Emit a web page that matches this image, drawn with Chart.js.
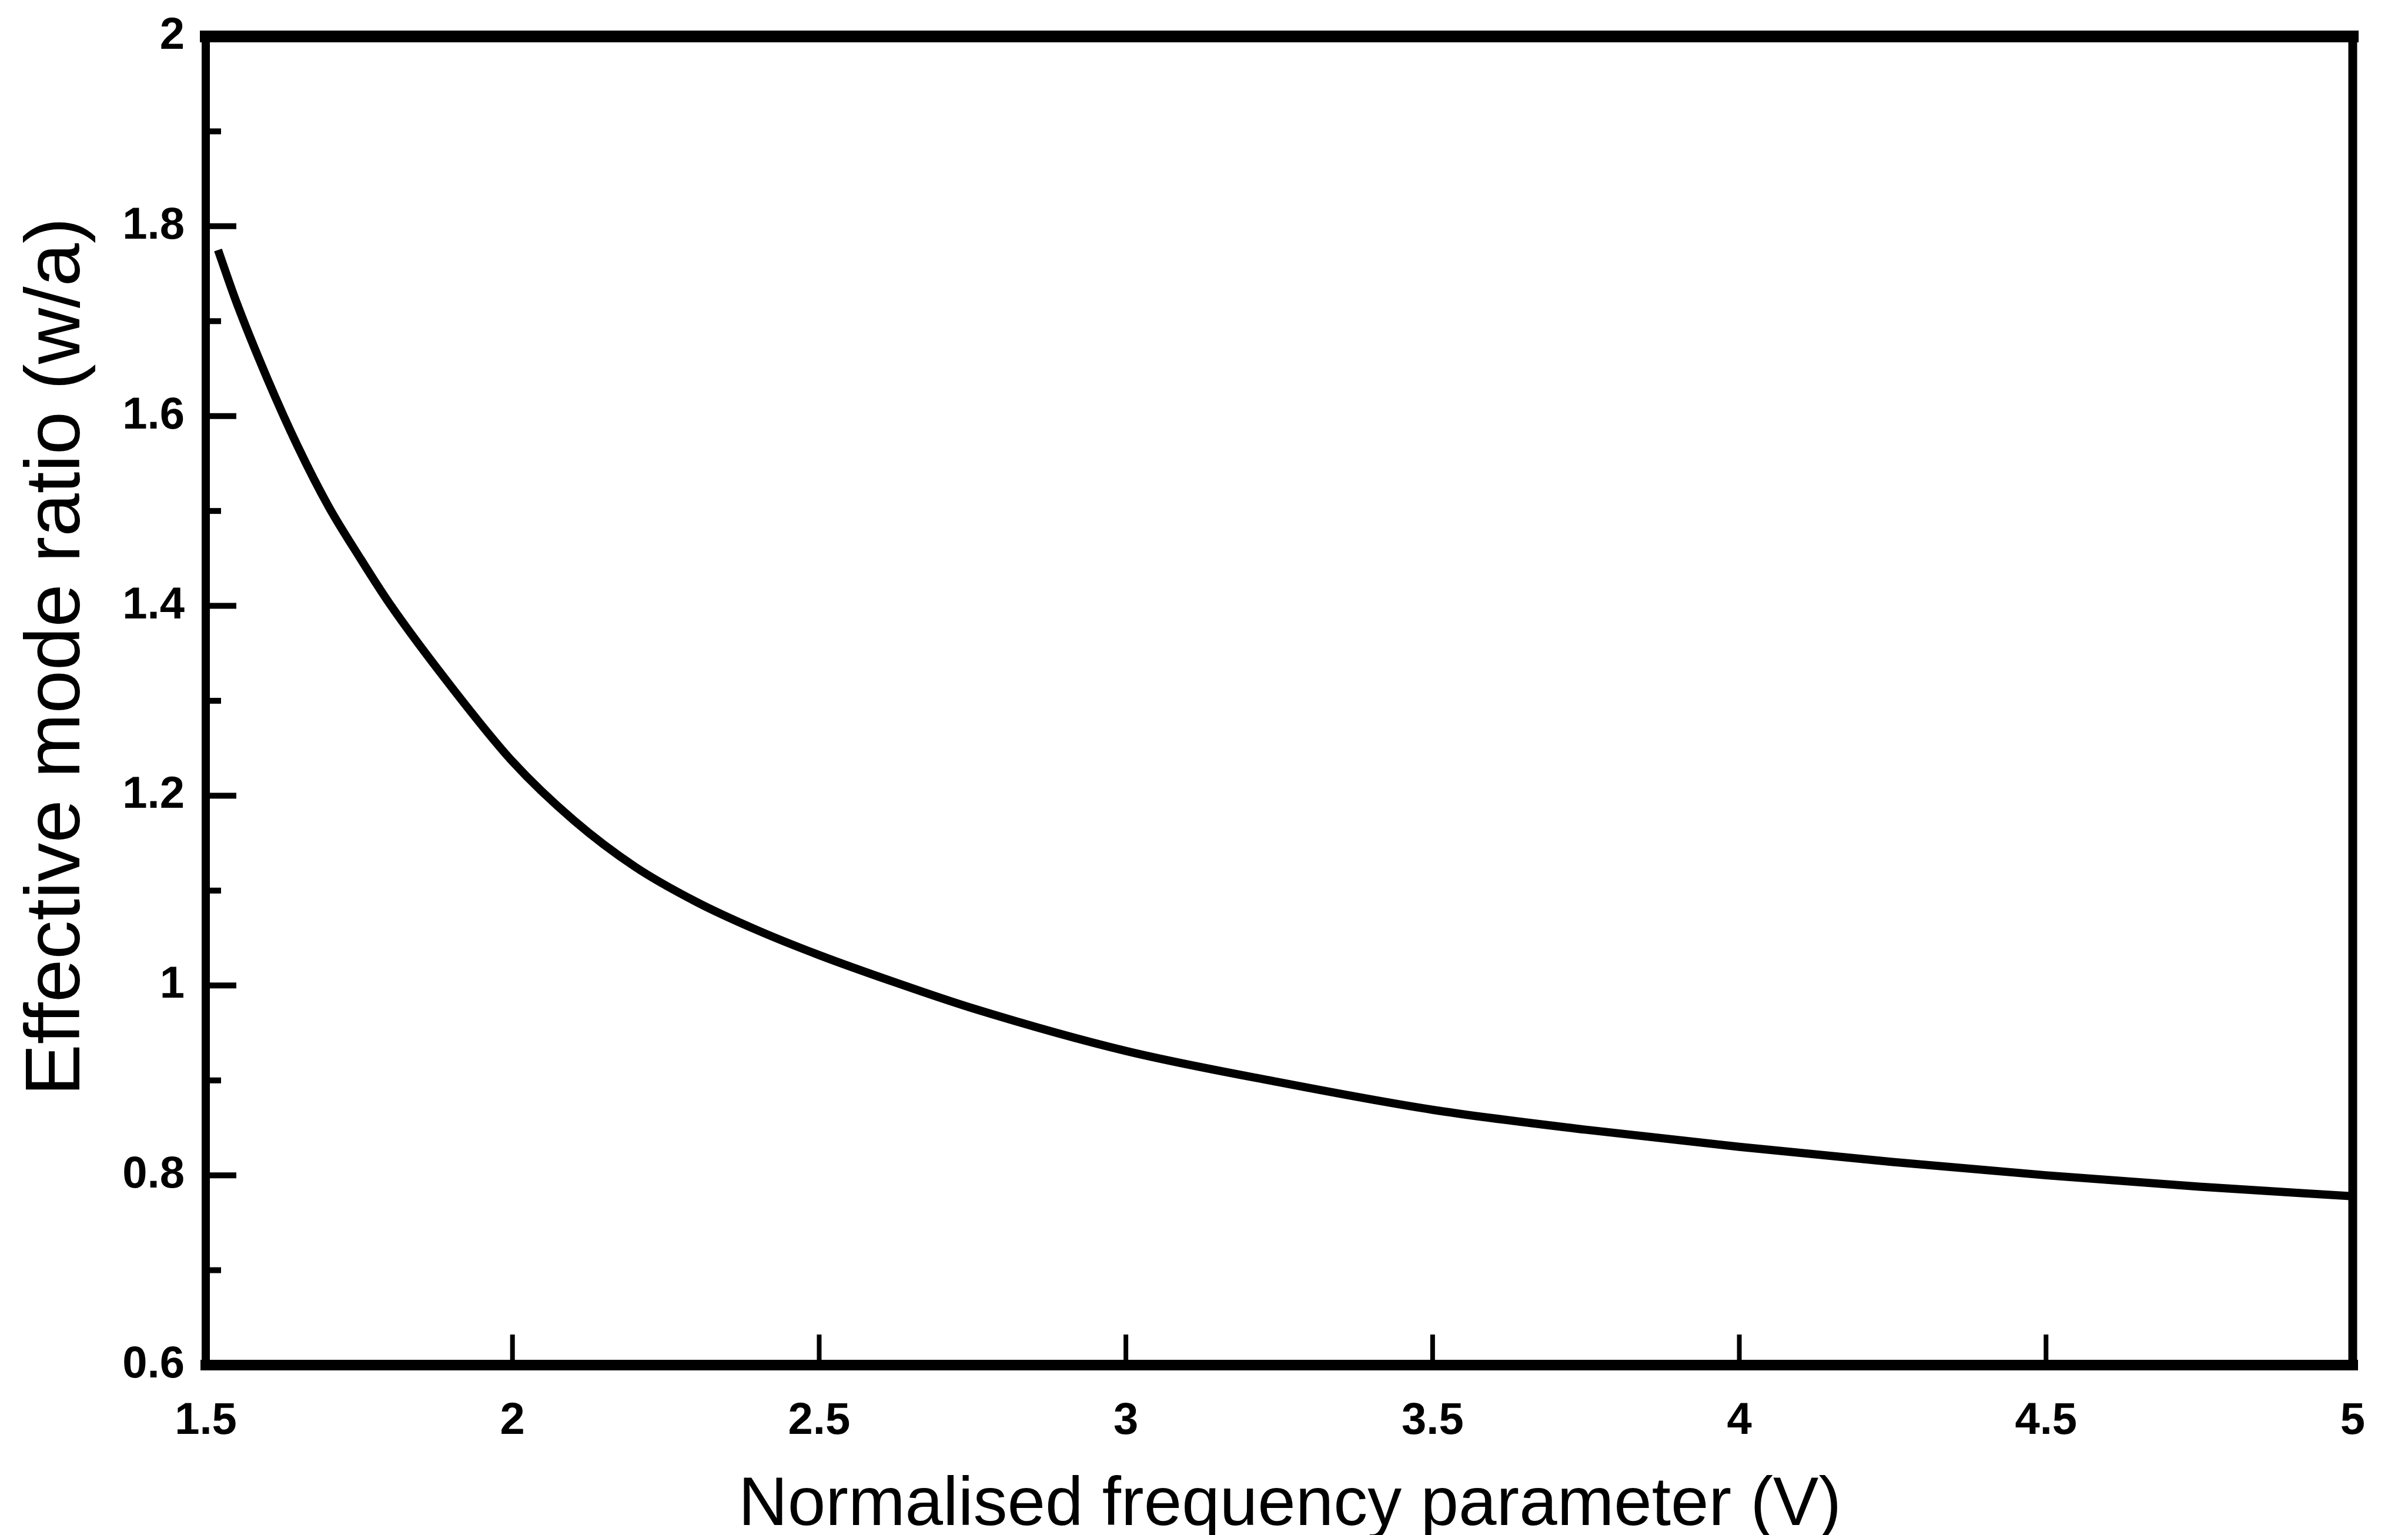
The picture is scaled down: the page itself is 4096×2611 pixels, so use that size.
<!DOCTYPE html>
<html>
<head>
<meta charset="utf-8">
<script src="https://cdn.jsdelivr.net/npm/chart.js@4.4.1/dist/chart.umd.min.js"></script>
<style>
    html, body { margin: 0; padding: 0; background: #fff; }
    canvas { display: block; }
</style>
</head>
<body>
<canvas id="modeChart" width="4096" height="2611"></canvas>
<script>
// normalised frequency V and the effective mode ratio w/a along the curve
const vValues = [1.52, 1.55, 1.6, 1.65, 1.7, 1.75, 1.8, 1.9, 2.0, 2.1, 2.2, 2.3, 2.4, 2.5,
    2.625, 2.75, 3.0, 3.25, 3.5, 3.75, 4.0, 4.25, 4.5, 4.75, 5.0];
const ratioValues = [1.775, 1.72, 1.64, 1.568, 1.505, 1.452, 1.402, 1.315, 1.236, 1.174, 1.125, 1.088, 1.058, 1.032,
    1.003, 0.976, 0.931, 0.898, 0.869, 0.848, 0.830, 0.814, 0.800, 0.788, 0.778];

const xTicks = [1.5, 2, 2.5, 3, 3.5, 4, 4.5, 5];
const yTicks = [0.6, 0.8, 1, 1.2, 1.4, 1.6, 1.8, 2];
const yMinorTicks = [0.7, 0.9, 1.1, 1.3, 1.5, 1.7, 1.9];

const xTitle = 'Normalised frequency parameter (V)';
const yTitle = 'Effective mode ratio (w/a)';

const FONT = '"Liberation Sans", Arial, Helvetica, sans-serif';

// box frame, inward tick marks and axis titles
const framePlugin = {
    id: 'frame',
    afterDraw(chart) {
        const { ctx, chartArea: a, scales: { x, y } } = chart;
        const seg = (w, x1, y1, x2, y2) => {
            ctx.lineWidth = w;
            ctx.beginPath();
            ctx.moveTo(x1, y1);
            ctx.lineTo(x2, y2);
            ctx.stroke();
        };
        ctx.save();
        ctx.strokeStyle = '#000';
        ctx.lineCap = 'square';
        seg(20, a.left, a.top, a.right, a.top);
        seg(15, a.right, a.top, a.right, a.bottom);
        seg(18, a.left, a.bottom, a.right, a.bottom);
        seg(14, a.left, a.top, a.left, a.bottom);

        ctx.lineCap = 'butt';
        xTicks.slice(1, -1).forEach(v => {
            const px = x.getPixelForValue(v);
            seg(8, px, a.bottom, px, a.bottom - 52);
        });
        yTicks.slice(1, -1).forEach(v => {
            const py = y.getPixelForValue(v);
            seg(10, a.left, py, a.left + 52, py);
        });
        yMinorTicks.forEach(v => {
            const py = y.getPixelForValue(v);
            seg(10, a.left, py, a.left + 26, py);
        });

        ctx.fillStyle = '#000';
        ctx.textAlign = 'center';
        ctx.font = '116px ' + FONT;
        ctx.textBaseline = 'alphabetic';
        ctx.fillText(xTitle, (a.left + a.right) / 2 + 18, a.bottom + 272);

        ctx.translate(a.left - 251, (a.top + a.bottom) / 2 - 75);
        ctx.rotate(-Math.PI / 2);
        ctx.font = '132px ' + FONT;
        ctx.textBaseline = 'middle';
        ctx.fillText(yTitle, 0, 0);
        ctx.restore();
    }
};

const tickFont = { family: FONT, size: 76, weight: 'bold' };

new Chart(document.getElementById('modeChart'), {
    type: 'scatter',
    data: {
        datasets: [{
            data: vValues.map((v, i) => ({ x: v, y: ratioValues[i] })),
            showLine: true,
            borderColor: '#000',
            borderWidth: 14,
            pointRadius: 0,
            cubicInterpolationMode: 'monotone',
            fill: false
        }]
    },
    options: {
        responsive: false,
        devicePixelRatio: 1,
        animation: false,
        layout: { padding: { top: 62, right: 94, left: 0, bottom: 0 } },
        plugins: {
            legend: { display: false },
            tooltip: { enabled: false }
        },
        scales: {
            x: {
                type: 'linear',
                min: 1.5,
                max: 5,
                afterBuildTicks: s => { s.ticks = xTicks.map(v => ({ value: v })); },
                afterFit: s => { s.height = 289; s.paddingLeft = 0; s.paddingRight = 0; },
                grid: { display: false, drawTicks: false },
                border: { display: false },
                ticks: {
                    font: tickFont,
                    color: '#000',
                    padding: 50,
                    maxRotation: 0,
                    autoSkip: false,
                    callback: v => String(v)
                }
            },
            y: {
                type: 'linear',
                min: 0.6,
                max: 2,
                afterBuildTicks: s => { s.ticks = yTicks.map(v => ({ value: v })); },
                afterFit: s => { s.width = 350; s.paddingTop = 0; s.paddingBottom = 0; },
                grid: { display: false, drawTicks: false },
                border: { display: false },
                ticks: {
                    font: tickFont,
                    color: '#000',
                    padding: 36,
                    autoSkip: false,
                    callback: v => String(v)
                }
            }
        }
    },
    plugins: [framePlugin]
});
</script>
</body>
</html>
